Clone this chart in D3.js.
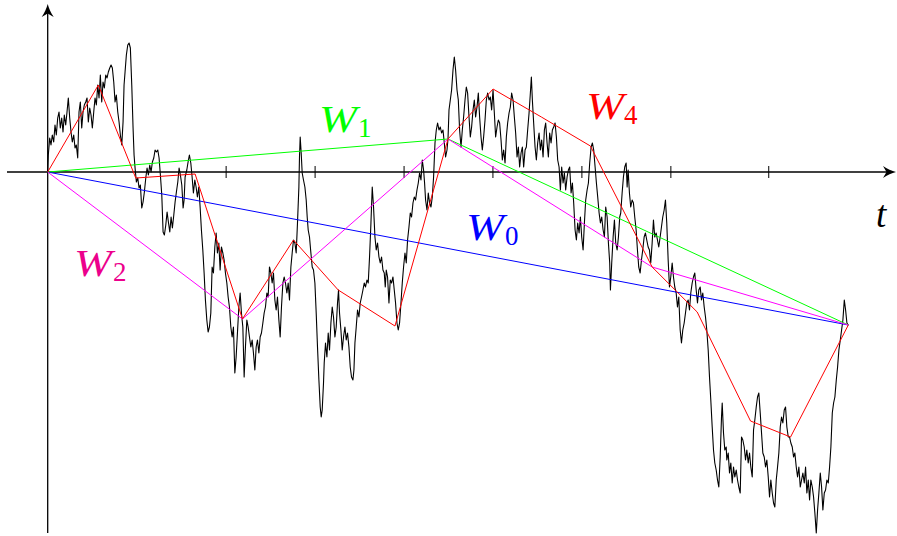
<!DOCTYPE html>
<html>
<head>
<meta charset="utf-8">
<script src="https://cdn.jsdelivr.net/npm/d3@7"></script>
<style>
body{margin:0;background:#fff}
svg{display:block}
</style>
</head>
<body>
<div id="plot"></div>
<script>
var width = 897, height = 536;

// sample path of W(t), t from 0 to 800
var brownian = [[0,0],[0.6,0.17],[2.0,0.34],[3.3,0.27],[4.6,0.37],[6.0,0.30],[7.3,0.47],[8.6,0.37],[10.0,0.54],[11.3,0.60],[12.6,0.44],[14.0,0.54],[15.3,0.40],[16.6,0.57],[18.0,0.47],[19.3,0.60],[20.6,0.74],[22.0,0.54],[23.3,0.40],[24.6,0.30],[26.0,0.37],[27.3,0.24],[28.6,0.27],[30.0,0.14],[31.3,0.60],[32.6,0.70],[34.0,0.44],[35.3,0.60],[36.6,0.67],[38.0,0.70],[39.3,0.74],[40.6,0.50],[42.0,0.64],[43.3,0.57],[44.6,0.44],[46.0,0.60],[47.3,0.74],[48.6,0.67],[50.0,0.87],[51.3,0.74],[52.6,0.97],[54.0,0.70],[55.3,0.90],[56.6,0.84],[58.0,0.97],[59.3,0.94],[60.6,1.00],[62.0,1.04],[63.3,1.07],[64.6,1.04],[66.0,0.90],[67.3,0.70],[68.6,0.77],[70.0,0.60],[71.3,0.50],[72.6,0.37],[74.0,0.27],[75.3,0.50],[76.3,0.87],[77.3,1.00],[78.6,1.17],[80.0,1.27],[81.3,1.29],[82.6,1.24],[84.0,0.87],[85.3,0.44],[86.3,0.17],[87.3,0.04],[88.6,-0.10],[90.0,-0.06],[91.3,-0.16],[92.6,-0.13],[94.0,-0.36],[95.3,-0.30],[96.6,-0.20],[98.0,-0.06],[99.3,0.04],[100.6,-0.03],[102.0,0.07],[103.3,0.00],[104.6,0.10],[106.0,0.14],[107.3,0.22],[108.6,0.20],[110.0,0.22],[111.3,0.14],[112.6,-0.03],[114.0,-0.23],[115.3,-0.60],[116.6,-0.63],[118.0,-0.53],[119.3,-0.40],[120.6,-0.50],[122.0,-0.60],[123.3,-0.45],[124.6,-0.56],[126.0,-0.43],[127.3,-0.30],[128.6,-0.20],[130.0,-0.10],[131.3,0.04],[132.6,-0.03],[134.0,-0.13],[135.3,-0.36],
[136.3,-0.28],[137.3,-0.05],[139.0,0.02],[140.6,0.12],[141.6,0.17],[143.0,0.09],[144.3,-0.05],[145.6,-0.21],[147.0,-0.08],[148.3,-0.15],[149.6,-0.25],[151.0,-0.15],[152.3,-0.35],[153.6,-0.58],[155.0,-0.78],[156.3,-1.01],[157.6,-1.28],[159.0,-1.48],[160.3,-1.60],[161.6,-1.55],[163.0,-1.41],[164.3,-0.95],[165.6,-1.01],[167.0,-0.75],[168.3,-0.61],[169.6,-0.81],[171.0,-0.71],[172.3,-0.98],[173.6,-0.75],[175.0,-0.81],[176.3,-0.88],[177.6,-1.01],[179.0,-1.11],[180.3,-1.25],[181.6,-1.35],[183.0,-1.55],[184.3,-1.65],[185.6,-1.55],[187.0,-2.01],[188.3,-1.85],[189.6,-1.61],[191.0,-1.35],[192.3,-1.21],[193.6,-1.41],[195.0,-1.55],[196.3,-2.05],[197.6,-1.75],[199.0,-1.48],[200.3,-1.55],[201.6,-1.65],[203.0,-1.75],[204.3,-1.68],[205.6,-1.81],[207.0,-1.98],[208.3,-1.75],[209.6,-1.68],[211.0,-1.81],[212.3,-1.65],[213.6,-1.61],[215.0,-1.51],[216.3,-1.41],[217.6,-1.35],[219.0,-1.21],[220.3,-1.25],[221.6,-0.95],[223.0,-1.01],[224.3,-1.11],[225.6,-1.01],[227.0,-1.28],[228.3,-1.38],[229.6,-1.25],[231.0,-1.48],[232.3,-1.65],[233.6,-1.35],[235.0,-1.11],[236.3,-1.05],[237.6,-1.11],[239.0,-1.21],[240.3,-1.11],[241.6,-1.28],[243.0,-0.95],[244.3,-0.81],[245.6,-0.68],[247.0,-0.71],[248.3,-0.81],[249.6,-0.51],[251.0,-0.15],[251.6,0.15],[252.3,0.35],[253.3,0.19],[254.3,-0.01],[255.6,-0.08],[257.0,-0.15],[258.3,-0.28],[259.3,-0.45],[260.3,-0.58],[261.6,-0.65],[263.0,-0.81],[264.3,-0.95],[265.6,-0.98],[267.0,-1.11],[268.3,-1.41],[269.6,-1.75],[271.0,-2.08],[272.3,-2.35],[273.3,-2.45],[274.3,-2.38],[275.6,-2.11],
[276.3,-1.91],[277.6,-1.71],[279.0,-1.85],[280.3,-1.61],[281.6,-1.78],[283.0,-1.51],[284.3,-1.35],[285.6,-1.45],[287.0,-1.65],[288.3,-1.55],[289.6,-1.31],[290.6,-1.18],[291.6,-1.41],[293.0,-1.58],[294.3,-1.78],[295.6,-1.65],[297.0,-1.55],[298.3,-1.68],[299.6,-1.61],[301.0,-1.75],[302.3,-1.95],[303.6,-2.05],[305.0,-2.08],[306.0,-1.98],[307.0,-1.71],[308.3,-1.55],[309.6,-1.38],[311.0,-1.45],[312.3,-1.31],[313.6,-1.25],[315.0,-1.18],[316.3,-1.11],[317.6,-1.15],[319.0,-1.08],[320.3,-1.11],[321.6,-0.85],[323.0,-0.51],[324.3,-0.15],[325.6,-0.35],[327.0,-0.65],[328.3,-0.78],[329.6,-0.71],[331.0,-0.85],[332.3,-0.91],[333.6,-0.85],[335.0,-0.98],[336.3,-1.01],[337.3,-1.15],[338.3,-0.98],[339.6,-1.05],[341.0,-1.31],[342.3,-1.08],[343.6,-1.11],[345.0,-1.05],[346.3,-1.18],[347.6,-1.31],[349.0,-1.51],[350.3,-1.58],[351.6,-1.51],[353.0,-1.31],[354.3,-1.11],[355.6,-0.95],[357.0,-0.81],[358.3,-0.91],[359.6,-0.68],[361.0,-0.55],[362.3,-0.41],[363.6,-0.45],[365.0,-0.31],[366.3,-0.25],[367.6,-0.28],[369.0,-0.18],[370.3,-0.11],[371.6,-0.01],[373.0,-0.08],[374.3,0.12],[375.6,0.02],[376.6,-0.11],[377.6,-0.28],[379.0,-0.38],[380.3,-0.21],[381.6,-0.31],[383.0,-0.35],[384.3,-0.25],[385.6,-0.05],[387.0,0.29],[388.3,0.42],[389.6,0.49],[391.0,0.42],[392.3,0.45],[393.6,0.39],[395.0,0.42],[396.3,0.29],[397.6,0.15],[399.0,0.22],[400.0,0.33],[401.0,0.62],[402.3,0.72],[403.6,0.82],[405.0,1.02],[406.3,1.15],[407.6,1.02],[409.0,0.82],[410.3,0.72],[411.6,0.42],[413.0,0.25],
[414.3,0.42],[415.6,0.55],[417.0,0.72],[418.3,0.85],[419.6,0.79],[421.0,0.55],[422.3,0.35],[423.6,0.45],[425.0,0.62],[426.3,0.72],[427.6,0.55],[429.0,0.65],[430.3,0.79],[431.6,0.55],[433.0,0.35],[434.3,0.22],[435.6,0.35],[437.0,0.52],[438.3,0.72],[439.6,0.79],[441.0,0.72],[442.3,0.75],[443.6,0.62],[445.0,0.82],[446.3,0.59],[447.6,0.35],[449.0,0.45],[450.3,0.52],[451.6,0.49],[453.0,0.32],[454.3,0.12],[455.6,0.22],[457.0,0.09],[458.3,0.35],[459.6,0.49],[461.0,0.59],[462.3,0.65],[463.6,0.79],[465.0,0.72],[466.3,0.55],[467.6,0.39],[469.0,0.15],[470.3,0.25],[471.6,0.05],[473.0,0.19],[474.3,0.25],[475.6,0.05],[477.0,0.22],[478.3,0.25],[479.6,0.42],[481.0,0.59],[482.3,0.79],[483.3,0.95],[484.3,0.72],[485.6,0.49],[487.0,0.25],[488.3,0.12],[489.6,0.29],[491.0,0.39],[492.3,0.22],[493.6,0.32],[495.0,0.15],[496.3,0.42],[497.6,0.49],[499.0,0.29],[500.3,0.15],[501.6,0.39],[503.0,0.29],[504.3,0.42],[505.6,0.45],[507.0,0.49],[508.3,0.35],[509.6,0.12],[511.0,0.05],[512.3,-0.18],[513.6,0.05],[515.0,-0.11],[516.3,-0.01],[517.6,-0.18],[519.0,-0.05],[520.3,0.02],[521.6,0.05],[523.0,-0.21],[524.3,-0.11],[525.6,-0.31],[527.0,-0.58],[528.3,-0.68],[529.6,-0.51],[531.0,-0.61],[532.3,-0.45],[533.6,-0.65],[535.0,-0.78],[536.3,-0.51],[537.6,-0.28],[539.0,-0.18],[540.3,-0.11],[541.6,0.09],[543.0,0.25],[544.3,0.29],[545.6,0.22],[547.0,0.05],[548.3,-0.11],[549.6,-0.25],[551.0,-0.41],[552.3,-0.51],[553.6,-0.45],[555.0,-0.58],[556.3,-0.65],[557.6,-0.35],[559.0,-0.45],[560.3,-0.71],[561.6,-0.91],[562.3,-1.18],[563.6,-0.91],[565.0,-0.65],[566.3,-0.48],[567.6,-0.71],[569.0,-0.78],[570.3,-0.65],[571.6,-0.45],
[572.6,-0.41],[574.0,-0.21],[575.3,-0.05],[576.6,0.05],[578.0,0.09],[579.0,-0.15],[580.0,0.02],[581.3,-0.21],[582.6,-0.35],[584.0,-0.28],[585.3,-0.31],[586.6,-0.45],[588.0,-0.58],[589.3,-0.78],[590.6,-0.95],[592.0,-1.01],[593.3,-0.88],[594.6,-0.78],[596.0,-0.65],[597.3,-0.61],[598.6,-0.68],[600.0,-0.75],[601.3,-0.78],[602.6,-0.91],[604.0,-0.71],[605.3,-0.48],[606.6,-0.65],[608.0,-0.61],[609.3,-0.68],[610.6,-0.75],[612.0,-0.65],[613.3,-0.55],[614.6,-0.45],[616.0,-0.38],[617.3,-0.28],[618.6,-0.51],[620.0,-0.88],[621.3,-1.15],[622.6,-1.05],[624.0,-0.91],[625.3,-1.05],[626.6,-1.15],[628.0,-1.21],[629.3,-1.35],[630.6,-1.25],[632.0,-1.58],[633.3,-1.71],[634.6,-1.58],[636.0,-1.51],[637.3,-1.41],[638.6,-1.31],[640.0,-1.28],[641.3,-1.38],[642.6,-1.21],[644.0,-1.11],[645.3,-1.05],[646.6,-1.01],[648.0,-1.18],[649.3,-1.31],[650.6,-1.18],[652.0,-1.15],[653.3,-1.28],[654.6,-1.21],[656.0,-1.35],[657.3,-1.45],[658.6,-1.58],[660.0,-1.78],[661.3,-2.05],[662.6,-2.28],[664.0,-2.55],[665.3,-2.78],[666.6,-2.91],[668.0,-2.98],[669.3,-3.08],[670.6,-3.15],[672.0,-2.85],[673.3,-2.45],[674.0,-2.31],[675.3,-2.61],[676.6,-2.78],[678.0,-2.75],
[678.6,-2.88],[680.0,-2.81],[681.3,-3.01],[682.6,-2.91],[684.0,-3.11],[685.3,-2.95],[686.6,-3.05],[688.0,-2.98],[689.3,-3.08],[690.6,-3.15],[692.0,-3.21],[693.3,-2.65],[694.6,-2.68],[696.0,-2.75],[697.3,-2.88],[698.6,-2.78],[700.0,-2.91],[701.3,-2.81],[702.6,-2.95],[704.0,-3.05],[705.3,-2.58],[706.6,-2.48],[708.0,-2.35],[709.3,-2.25],[710.6,-2.21],[712.0,-2.41],[713.3,-2.61],[714.6,-2.81],[716.0,-2.85],[717.3,-2.95],[718.6,-2.88],[720.0,-3.05],[721.3,-3.25],[722.6,-3.08],[724.0,-3.21],[725.3,-3.31],[726.6,-3.35],[728.0,-3.08],[729.3,-2.95],[730.6,-2.81],[732.0,-2.55],[733.3,-2.45],[734.6,-2.51],[736.0,-2.38],[737.3,-2.35],[738.6,-2.55],[740.0,-2.65],[741.3,-2.65],[742.6,-2.71],[744.0,-2.75],[745.3,-2.85],[746.6,-2.81],[748.0,-2.95],[749.3,-3.05],[750.6,-2.95],[752.0,-3.15],[753.3,-3.08],[754.6,-3.01],[756.0,-3.11],[757.3,-2.95],[758.6,-3.21],[760.0,-3.08],[761.3,-3.28],[762.6,-3.08],[764.0,-3.15],[765.3,-3.25],[766.6,-3.41],[768.0,-3.61],[769.3,-3.38],[770.6,-3.21],[772.0,-3.01],[773.3,-3.15],[774.6,-3.38],[776.0,-3.21],[777.3,-3.18],[778.6,-3.08],[780.0,-3.11],[781.3,-2.95],[782.6,-2.75],[784.0,-2.41],[785.3,-2.31],[786.6,-2.25],[788.0,-2.08],[789.3,-1.95],[790.6,-1.78],[792.0,-1.68],[793.3,-1.58],[794.6,-1.48],[796.0,-1.28],[797.3,-1.38],[798.6,-1.51],[800.0,-1.53]];

// piecewise linear approximations (times and values)
var w0T = [0, 800];
var w0V = [0, -1.53];
var w1T = [0, 400, 800];
var w1V = [0, 0.33, -1.53];
var w2T = [0, 194.6, 400, 604, 800];
var w2V = [0, -1.47, 0.33, -0.95, -1.53];
var w4T = [0, 50.6, 88.0, 147.3, 194.6, 245.6, 290.3, 347.0, 400, 445.0, 493.3, 542.3, 604.0, 649.0, 702.3, 742.3, 800];
var w4V = [0, 0.87, -0.06, -0.02, -1.47, -0.68, -1.18, -1.54, 0.33, 0.83, 0.55, 0.26, -0.95, -1.40, -2.49, -2.65, -1.53];

var tickT = [177.8, 266.7, 355.6, 444.4, 533.3, 622.2, 720];

var svg = d3.select('#plot')
	.append('svg')
	.attr('width', width)
	.attr('height', height)
	.style('background', '#fff');

var x = d3.scaleLinear().domain([0, 800]).range([47.7, 848.3]);
var y = d3.scaleLinear().domain([0, -1]).range([172, 272]);

// arrow head pointing along +x, tip at origin
var arrowPath = 'M0,0 C-4,1.2 -9,3 -13,6 L-9.5,0 L-13,-6 C-9,-3 -4,-1.2 0,0 Z';

// x axis
svg.append('line')
	.attr('x1', 7).attr('x2', 892)
	.attr('y1', y(0)).attr('y2', y(0))
	.attr('stroke', '#000').attr('stroke-width', 1.3);
svg.append('path')
	.attr('d', arrowPath)
	.attr('transform', 'translate(896,' + y(0) + ')')
	.attr('fill', '#000');

// y axis
svg.append('line')
	.attr('x1', x(0)).attr('x2', x(0))
	.attr('y1', 533).attr('y2', 8)
	.attr('stroke', '#000').attr('stroke-width', 1.3);
svg.append('path')
	.attr('d', arrowPath)
	.attr('transform', 'translate(' + x(0) + ',4) rotate(-90)')
	.attr('fill', '#000');

// ticks
var xAxis = d3.axisBottom(x).tickValues(tickT).tickSize(12).tickFormat('');
var gx = svg.append('g')
	.attr('transform', 'translate(0,' + (y(0) - 6) + ')')
	.call(xAxis);
gx.select('.domain').remove();
gx.selectAll('.tick line').attr('stroke', '#000').attr('stroke-width', 1);

var line = d3.line()
	.x(function(d) { return x(d[0]); })
	.y(function(d) { return y(d[1]); });

function pairs(ts, vs) {
	return ts.map(function(t, i) { return [t, vs[i]]; });
}

svg.append('path')
	.datum(brownian)
	.attr('d', line)
	.attr('fill', 'none')
	.attr('stroke', '#000')
	.attr('stroke-width', 1.1)
	.attr('stroke-linejoin', 'round');

var approx = [
	{t: w0T, v: w0V, color: '#0000ff'},
	{t: w1T, v: w1V, color: '#00ff00'},
	{t: w2T, v: w2V, color: '#ff00ff'},
	{t: w4T, v: w4V, color: '#ff0000'}
];
approx.forEach(function(a) {
	svg.append('path')
		.datum(pairs(a.t, a.v))
		.attr('d', line)
		.attr('fill', 'none')
		.attr('stroke', a.color)
		.attr('stroke-width', 1);
});

// labels W_k
var labels = [
	{sub: '0', x: 466, y: 240, sx: 505, sy: 245, color: '#0000ff'},
	{sub: '1', x: 319, y: 132, sx: 358, sy: 137, color: '#00ff00'},
	{sub: '2', x: 74, y: 276, sx: 113, sy: 281, color: '#ec008c'},
	{sub: '4', x: 586, y: 119, sx: 624, sy: 124, color: '#ff0000'}
];
var serif = '"Liberation Serif", "Times New Roman", serif';
labels.forEach(function(l) {
	svg.append('text')
		.attr('x', l.x).attr('y', l.y)
		.attr('fill', l.color)
		.attr('textLength', 38)
		.attr('lengthAdjust', 'spacingAndGlyphs')
		.style('font-family', serif)
		.style('font-style', 'italic')
		.style('font-size', '38px')
		.text('W');
	svg.append('text')
		.attr('x', l.sx).attr('y', l.sy)
		.attr('fill', l.color)
		.style('font-family', serif)
		.style('font-size', '27px')
		.text(l.sub);
});

svg.append('text')
	.attr('x', 876).attr('y', 227)
	.style('font-family', serif)
	.style('font-style', 'italic')
	.style('font-size', '37px')
	.attr('fill', '#000')
	.text('t');
</script>
</body>
</html>
